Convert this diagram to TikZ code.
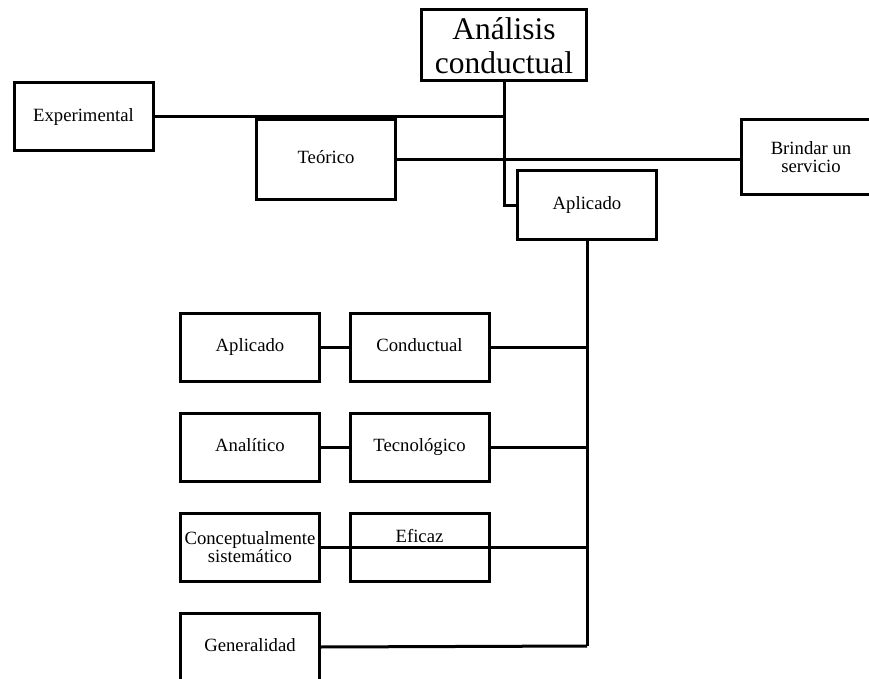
\documentclass[tikz,border=0pt]{standalone}
\usepackage{fontspec}
\setmainfont{Liberation Serif}
\tikzset{
  box/.style={draw, line width=3pt, inner sep=0pt, outer sep=0pt, align=center,
    font=\fontsize{18.7}{18.5}\selectfont, minimum width=139pt, minimum height=68pt},
  oneline/.style={text height=12.5pt, text depth=4pt},
  link/.style={line width=3pt}
}
\begin{document}
\begin{tikzpicture}[x=1pt,y=-1pt]
\useasboundingbox (0,0) rectangle (869,679);
\begin{scope}
\clip (0,0) rectangle (869,679);
% top level
\node[box, font=\fontsize{31.5}{34}\selectfont, minimum width=165pt, minimum height=71pt] (title) at (504,45.5) {Análisis\\conductual};
\node[box, oneline] (exp) at (83.5,117) {Experimental};
\node[box, oneline, minimum height=79pt] (teo) at (326,159.5) {Teórico};
\node[box, minimum height=74pt] (serv) at (811,157) {Brindar un\\servicio};
\node[box, oneline] (apl) at (587,205) {Aplicado};
% dimensions
\node[box, oneline] (apl2) at (250,347.5) {Aplicado};
\node[box, oneline] (cond) at (419.5,347.5) {Conductual};
\node[box, oneline] (anal) at (250,447) {Analítico};
\node[box, oneline] (tec) at (419.5,447) {Tecnológico};
\node[box] (conc) at (250,547) {Conceptualmente\\sistemático};
\node[box, label={[font=\fontsize{18.7}{18.5}\selectfont, text height=12.5pt, text depth=4pt, yshift=9pt]center:Eficaz}] (efic) at (419.5,547) {};
\node[box, oneline] (gen) at (250,647) {Generalidad};
% connectors
\coordinate (trunk) at (587,646);
\draw[link] (title.south) |- (apl.west);
\draw[link] (exp.east) -- (exp.east -| title.south);
\draw[link] (teo.east) -- (teo.east -| serv.west);
\draw[link] (apl.south) -- (trunk);
\draw[link] (gen.east) -- (trunk);
\draw[link] (apl2.east) -- (cond.west);
\draw[link] (anal.east) -- (tec.west);
\draw[link] (cond.east) -- (cond.east -| trunk);
\draw[link] (tec.east) -- (tec.east -| trunk);
\draw[link] (conc.east) -- (conc.east -| trunk);
\end{scope}
\end{tikzpicture}
\end{document}
